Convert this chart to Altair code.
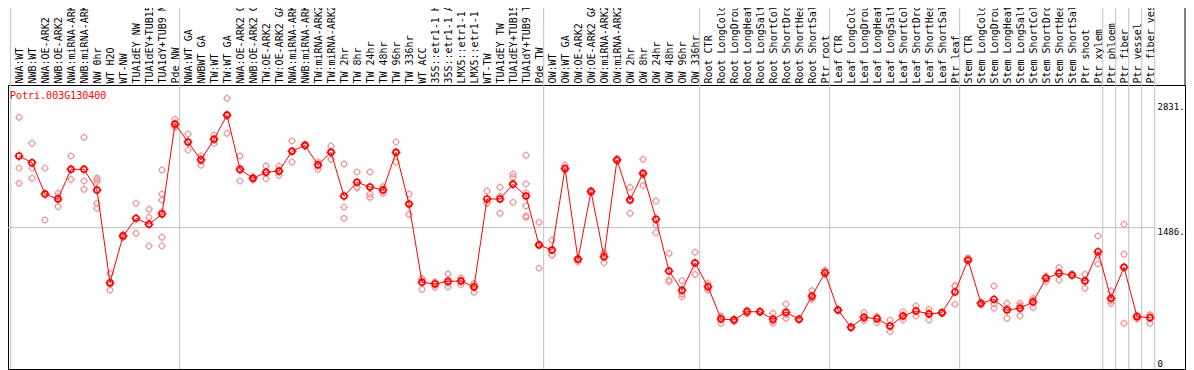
import altair as alt
import pandas as pd

gene = "Potri.003G130400"

categories = [
    "NWA:WT", "NWB:WT", "NWA:OE-ARK2", "NWB:OE-ARK2", "NWA:miRNA-ARK2", "NWB:miRNA-ARK2",
    "NW 0hr", "WT H2O", "WT-NW", "TUA1dEY NW", "TUA1dEY+TUB15 NW", "TUA1dY+TUB9 NW", "Pde NW",
    "NWA:WT GA", "NWBWT GA", "TW:WT", "TW:WT GA", "NWA:OE-ARK2 GA", "NWB:OE-ARK2 GA",
    "TW:OE-ARK2", "TW:OE-ARK2 GA", "NWA:miRNA-ARK2 GA", "NWB:miRNA-ARK2 GA", "TW:miRNA-ARK2",
    "TW:miRNA-ARK2 GA", "TW 2hr", "TW 8hr", "TW 24hr", "TW 48hr", "TW 96hr", "TW 336hr",
    "WT ACC", "35S::etr1-1 H2O", "35S::etr1-1 ACC", "LMX5::etr1-1 H2O", "LMX5::etr1-1 ACC",
    "WT-TW", "TUA1dEY TW", "TUA1dEY+TUB15 TW", "TUA1dY+TUB9 TW", "Pde TW",
    "OW:WT", "OW:WT GA", "OW:OE-ARK2", "OW:OE-ARK2 GA", "OW:miRNA-ARK2", "OW:miRNA-ARK2 GA",
    "OW 2hr", "OW 8hr", "OW 24hr", "OW 48hr", "OW 96hr", "OW 336hr",
    "Root CTR", "Root LongCold", "Root LongDrought", "Root LongHeat", "Root LongSalt",
    "Root ShortCold", "Root ShortDrought", "Root ShortHeat", "Root ShortSalt", "Ptr root",
    "Leaf CTR", "Leaf LongCold", "Leaf LongDrought", "Leaf LongHeat", "Leaf LongSalt",
    "Leaf ShortCold", "Leaf ShortDrought", "Leaf ShortHeat", "Leaf ShortSalt", "Ptr leaf",
    "Stem CTR", "Stem LongCold", "Stem LongDrought", "Stem LongHeat", "Stem LongSalt",
    "Stem ShortCold", "Stem ShortDrought", "Stem ShortHeat", "Stem ShortSalt",
    "Ptr shoot", "Ptr xylem", "Ptr phloem", "Ptr fiber", "Ptr vessel", "Ptr fiber vessel",
]

means = [
    2256, 2184, 1847, 1794, 2113, 2113, 1890, 895, 1396, 1586, 1522, 1633, 2599,
    2406, 2213, 2435, 2693, 2113, 2016, 2081, 2094, 2306, 2371, 2159, 2295, 1826, 1973,
    1923, 1890, 2295, 1740, 899, 881, 910, 913, 849, 1794, 1794, 1952, 1826, 1300,
    1246, 2123, 1146, 1874, 1174, 2213, 1783, 2070, 1576, 1020, 813, 1106,
    852, 505, 494, 583, 583, 502, 577, 502, 752, 1002,
    601, 416, 523, 508, 430, 537, 591, 559, 573, 795,
    1139, 673, 716, 601, 620, 687, 942, 996, 977, 913, 1228, 727, 1060, 530, 519,
]

replicates = [
    [2671, 2124, 1962], [2392, 2124, 2016], [2124, 1855, 1568], [1855, 1711, 1816],
    [2256, 2113, 2005], [2456, 1987, 1898], [2019, 2003, 1980, 1748, 1694], [996, 816, 873],
    [1380, 1410, 1398], [1748, 1425, 1586], [1683, 1597, 1289],
    [2105, 1847, 1783, 1657, 1382, 1289], [2650, 2564, 2583],
    [2492, 2320, 2406], [2256, 2156, 2227], [2481, 2390, 2435], [2875, 2499, 2705],
    [2256, 1987, 2096], [2030, 2000, 2018], [2148, 2012, 2083], [2148, 2048, 2086],
    [2417, 2191, 2310], [2371, 2380, 2362], [2194, 2113, 2170], [2363, 2220, 2302],
    [2170, 1705, 1586], [2084, 1919, 1916], [2084, 1847, 1812], [1926, 1855, 1889],
    [2406, 2191, 2288], [1847, 1629, 1744], [931, 824, 942], [905, 845, 893],
    [988, 852, 890], [948, 873, 918], [888, 792, 867], [1880, 1748, 1754],
    [1919, 1640, 1823], [2062, 2027, 1758, 1961], [2263, 1955, 1861, 1719, 1611, 1597],
    [1543, 1049, 1308],
    [1353, 1192, 1193], [2159, 2105, 2105], [1120, 1160, 1158], [1874, 1860, 1888],
    [1217, 1110, 1195], [2230, 2200, 2209], [1919, 1640, 1790], [2220, 1937, 2053],
    [1772, 1514, 1432], [1210, 924, 905], [916, 773, 744], [1221, 985, 1112],
    [888, 816, 852], [537, 459, 519], [480, 505, 497], [559, 600, 590], [583, 575, 590],
    [566, 459, 481], [666, 512, 553], [502, 495, 509], [809, 716, 731], [1031, 990, 985],
    [601, 595, 607], [416, 410, 422], [573, 487, 509], [530, 465, 529], [494, 368, 428],
    [583, 494, 534], [644, 537, 592], [609, 494, 574], [573, 565, 581], [859, 663, 863],
    [1163, 1127, 1127], [655, 680, 684], [859, 620, 669], [673, 512, 618], [673, 540, 647],
    [727, 630, 704], [905, 960, 961], [1056, 924, 1008], [977, 970, 984], [985, 835, 919],
    [1396, 1096, 1192], [806, 673, 702], [1522, 1200, 459], [505, 543, 542], [548, 459, 550],
]

group_starts = ["NWA:WT", "NWA:WT GA", "OW:WT", "Root CTR", "Leaf CTR", "Stem CTR",
                "Ptr phloem", "Ptr fiber", "Ptr vessel", "Ptr fiber vessel"]
group_end = ["Ptr fiber vessel"]
y_ticks = [0, 1486, 2831]
hline_values = [1486]

W, H = 1177, 284
mono = "DejaVu Sans Mono"

mean_df = pd.DataFrame({"cat": categories, "value": means, "idx": range(len(categories))})
rep_rows = [(c, v) for c, vals in zip(categories, replicates) for v in vals]
rep_df = pd.DataFrame(rep_rows, columns=["cat", "value"])

xscale = alt.Scale(domain=categories, range=[2.7, 1146.7], paddingInner=0, paddingOuter=0)
yscale = alt.Scale(domain=[-32.2, 3018.3], nice=False, zero=False)

x_axis = alt.Axis(orient="top", labelAngle=-90, labelAlign="left", labelBaseline="middle",
                  labelPadding=2, labelFont=mono, labelFontSize=10, labelColor="black",
                  labelOverlap=False, labelLimit=300, ticks=False, tickSize=0, domain=False,
                  grid=False, title=None, labelOffset=3)
y_axis = alt.Axis(orient="right", values=y_ticks,
                  labelExpr="datum.value == 0 ? '0' : format(datum.value, 'd') + '.'",
                  labelAlign="left",
                  labelBaseline={"condition": {"test": "datum.value == 0", "value": "alphabetic"},
                                 "value": "top"},
                  labelPadding=-28, labelFont=mono, labelFontSize=9, labelColor="black",
                  ticks=False, tickSize=0, domain=False, grid=False, title=None)

tick_shape = "M0,-0.7V-1M0,0.7V1M-0.7,0H-1M0.7,0H1"

X = lambda **kw: alt.X("cat:N", scale=xscale, axis=x_axis, **kw)
Yv = lambda: alt.Y("value:Q", scale=yscale, axis=y_axis)

vgrid = alt.Chart(pd.DataFrame({"cat": group_starts})).mark_rule(
    color="#c0c0c0", strokeWidth=1).encode(
    x=X(bandPosition=0), y=alt.value(-77), y2=alt.value(H))
vgrid_end = alt.Chart(pd.DataFrame({"cat": group_end})).mark_rule(
    color="#c0c0c0", strokeWidth=1).encode(
    x=X(bandPosition=1), y=alt.value(-77), y2=alt.value(H))
hgrid = alt.Chart(pd.DataFrame({"value": hline_values})).mark_rule(
    color="#c0c0c0", strokeWidth=1).encode(
    y=Yv(), x=alt.value(0), x2=alt.value(1148))
right_edge = alt.Chart(pd.DataFrame({"a": [0]})).mark_rule(color="black", strokeWidth=1).encode(
    x=alt.value(W), y=alt.value(-77), y2=alt.value(0))

rep_c = "#f09898"
reps = alt.Chart(rep_df).mark_point(shape="circle", filled=False, size=30, strokeWidth=1.2,
                                    color=rep_c, opacity=1, xOffset=1.8).encode(x=X(), y=Yv())
reps_t = alt.Chart(rep_df).mark_point(shape=tick_shape, filled=False, size=70, strokeWidth=1,
                                      color=rep_c, opacity=0.8, xOffset=1.8).encode(x=X(), y=Yv())
line = alt.Chart(mean_df).mark_line(color="#ff0000", strokeWidth=1, xOffset=1.8).encode(
    x=X(), y=Yv(), order=alt.Order("idx:Q"))
pts = alt.Chart(mean_df).mark_point(shape="circle", filled=False, size=34, strokeWidth=1.6,
                                    color="#ff0000", opacity=1, xOffset=1.8).encode(x=X(), y=Yv())
pts_t = alt.Chart(mean_df).mark_point(shape=tick_shape, filled=False, size=80, strokeWidth=1.2,
                                      color="#ff0000", opacity=1, xOffset=1.8).encode(x=X(), y=Yv())
title = alt.Chart(pd.DataFrame({"t": [gene]})).mark_text(
    align="left", baseline="alphabetic", font=mono, fontSize=10, color="#ff0000").encode(
    text="t:N", x=alt.value(2), y=alt.value(14.3))

chart = alt.layer(vgrid, vgrid_end, hgrid, right_edge, reps, reps_t, line, pts, pts_t,
                  title).properties(
    width=W, height=H,
    autosize=alt.AutoSizeParams(type="none"),
    padding={"left": 0, "top": 77, "right": 1, "bottom": 1},
    background="white",
).configure_view(stroke="black", strokeWidth=1)

chart.save("out.html", embed_options={"renderer": "svg", "actions": False})
